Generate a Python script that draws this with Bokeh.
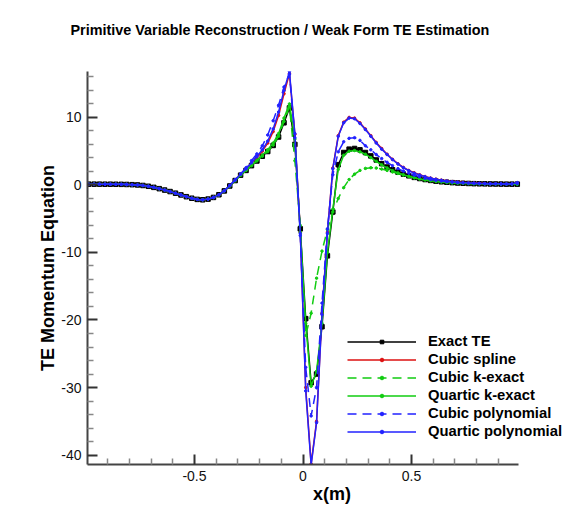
from bokeh.plotting import figure
from bokeh.models import Range1d, FixedTicker, Title, Legend, LegendItem
from bokeh.embed import file_html
from bokeh.resources import INLINE

# ---------------- data ----------------
x = [-0.9875, -0.9625, -0.9375, -0.9125, -0.8875, -0.8625, -0.8375, -0.8125, -0.7875, -0.7625,
     -0.7375, -0.7125, -0.6875, -0.6625, -0.6375, -0.6125, -0.5875, -0.5625, -0.5375, -0.5125,
     -0.4875, -0.4625, -0.4375, -0.4125, -0.3875, -0.3625, -0.3375, -0.3125, -0.2875, -0.2625,
     -0.2375, -0.2125, -0.1875, -0.1625, -0.1375, -0.1125, -0.0875, -0.0625, -0.0375, -0.0125,
     0.0125, 0.0375, 0.0625, 0.0875, 0.1125, 0.1375, 0.1625, 0.1875, 0.2125, 0.2375,
     0.2625, 0.2875, 0.3125, 0.3375, 0.3625, 0.3875, 0.4125, 0.4375, 0.4625, 0.4875,
     0.5125, 0.5375, 0.5625, 0.5875, 0.6125, 0.6375, 0.6625, 0.6875, 0.7125, 0.7375,
     0.7625, 0.7875, 0.8125, 0.8375, 0.8625, 0.8875, 0.9125, 0.9375, 0.9625, 0.9875]

exact_te = [0.12, 0.12, 0.12, 0.11, 0.11, 0.10, 0.09, 0.07, 0.04, 0.00,
            -0.08, -0.20, -0.36, -0.55, -0.76, -0.98, -1.22, -1.48, -1.74, -1.97,
            -2.14, -2.20, -2.10, -1.85, -1.45, -0.88, -0.15, 0.65, 1.45, 2.15,
            2.85, 3.55, 4.25, 4.95, 5.85, 7.10, 9.20, 11.40, 6.00, -6.50,
            -19.8, -29.3, -28.0, -21.0, -10.5, -4.0, 3.0, 4.8, 5.3, 5.4,
            5.2, 4.8, 4.3, 3.7, 3.15, 2.65, 2.25, 1.9, 1.6, 1.35,
            1.12, 0.95, 0.8, 0.67, 0.56, 0.47, 0.4, 0.34, 0.29, 0.25,
            0.22, 0.19, 0.17, 0.16, 0.15, 0.14, 0.13, 0.12, 0.12, 0.12]

cubic_spline = [0.12, 0.12, 0.12, 0.11, 0.11, 0.10, 0.09, 0.07, 0.04, 0.00,
                -0.08, -0.20, -0.36, -0.55, -0.76, -0.98, -1.22, -1.48, -1.74, -1.97,
                -2.14, -2.20, -2.10, -1.85, -1.45, -0.88, -0.12, 0.70, 1.55, 2.30,
                3.2, 4.1, 5.0, 6.2, 7.9, 10.3, 13.5, 16.5, 7.5, -7.0,
                -30.0, -41.3, -35.0, -19.0, -7.0, 2.5, 7.3, 9.3, 10.0, 9.9,
                9.2, 8.3, 7.3, 6.3, 5.4, 4.55, 3.8, 3.15, 2.6, 2.15,
                1.8, 1.5, 1.25, 1.03, 0.86, 0.72, 0.6, 0.5, 0.42, 0.36,
                0.31, 0.27, 0.24, 0.21, 0.19, 0.17, 0.16, 0.15, 0.15, 0.30]

cubic_kexact = [0.12, 0.12, 0.12, 0.11, 0.11, 0.10, 0.09, 0.07, 0.04, 0.00,
                -0.08, -0.20, -0.36, -0.55, -0.76, -0.98, -1.22, -1.48, -1.74, -1.97,
                -2.14, -2.20, -2.10, -1.85, -1.45, -0.88, -0.15, 0.65, 1.45, 2.15,
                2.85, 3.55, 4.25, 4.95, 5.9, 7.2, 9.4, 11.6, 3.6, -6.0,
                -22.3, -19.0, -13.8, -9.8, -6.6, -4.0, -2.0, -0.4, 0.8, 1.6,
                2.15, 2.45, 2.55, 2.5, 2.35, 2.15, 1.92, 1.7, 1.48, 1.28,
                1.1, 0.94, 0.8, 0.67, 0.56, 0.47, 0.4, 0.34, 0.29, 0.25,
                0.22, 0.19, 0.17, 0.16, 0.15, 0.14, 0.13, 0.13, 0.12, 0.12]

quartic_kexact = [0.12, 0.12, 0.12, 0.11, 0.11, 0.10, 0.09, 0.07, 0.04, 0.00,
                  -0.08, -0.20, -0.36, -0.55, -0.76, -0.98, -1.22, -1.48, -1.74, -1.97,
                  -2.14, -2.20, -2.10, -1.85, -1.45, -0.88, -0.15, 0.65, 1.45, 2.15,
                  2.9, 3.65, 4.4, 5.2, 6.2, 7.6, 9.9, 12.0, 6.8, -7.0,
                  -20.5, -29.8, -27.6, -20.5, -10.0, -3.6, 2.3, 4.4, 5.0, 5.1,
                  4.9, 4.55, 4.05, 3.5, 2.98, 2.52, 2.12, 1.78, 1.5, 1.26,
                  1.05, 0.88, 0.74, 0.61, 0.5, 0.42, 0.35, 0.3, 0.26, 0.22,
                  0.2, 0.18, 0.16, 0.15, 0.14, 0.13, 0.12, 0.12, 0.12, 0.12]

cubic_poly = [0.12, 0.12, 0.12, 0.11, 0.11, 0.10, 0.09, 0.07, 0.04, 0.00,
              -0.08, -0.20, -0.36, -0.55, -0.76, -0.98, -1.22, -1.48, -1.74, -1.97,
              -2.14, -2.20, -2.10, -1.85, -1.45, -0.85, -0.08, 0.78, 1.65, 2.55,
              3.6, 4.6, 5.8, 7.4, 9.5, 11.8, 14.5, 16.4, 7.0, -7.5,
              -27.0, -34.2, -30.0, -17.5, -6.5, 1.5, 4.9, 6.4, 6.9, 7.0,
              6.6, 5.8, 5.2, 4.5, 3.9, 3.35, 2.85, 2.42, 2.05, 1.75,
              1.45, 1.2, 0.99, 0.82, 0.68, 0.57, 0.48, 0.41, 0.35, 0.3,
              0.26, 0.23, 0.2, 0.18, 0.17, 0.16, 0.15, 0.14, 0.14, 0.2]

quartic_poly = [0.12, 0.12, 0.12, 0.11, 0.11, 0.10, 0.09, 0.07, 0.04, 0.00,
                -0.08, -0.20, -0.36, -0.55, -0.76, -0.98, -1.22, -1.48, -1.74, -1.97,
                -2.14, -2.20, -2.10, -1.85, -1.45, -0.87, -0.10, 0.72, 1.58, 2.38,
                3.3, 4.2, 5.2, 6.5, 8.3, 10.8, 14.0, 16.8, 7.6, -7.2,
                -30.5, -41.5, -35.2, -19.2, -7.2, 2.4, 7.2, 9.2, 9.9, 9.8,
                9.1, 8.2, 7.2, 6.2, 5.3, 4.5, 3.75, 3.1, 2.55, 2.1,
                1.75, 1.47, 1.22, 1.01, 0.84, 0.7, 0.59, 0.49, 0.41, 0.35,
                0.3, 0.26, 0.23, 0.21, 0.19, 0.17, 0.16, 0.15, 0.16, 0.35]

labels = ["Exact TE", "Cubic spline", "Cubic k-exact", "Quartic k-exact",
          "Cubic polynomial", "Quartic polynomial"]
x_ticks = [-0.5, 0, 0.5]
x_tick_labels = ["-0.5", "0", "0.5"]
x_minor = [-0.9, -0.8, -0.7, -0.6, -0.4, -0.3, -0.2, -0.1, 0.1, 0.2, 0.3, 0.4, 0.6, 0.7, 0.8, 0.9]
y_ticks = [-40, -30, -20, -10, 0, 10]
y_tick_labels = ["-40", "-30", "-20", "-10", "0", "10"]
y_minor = [-38, -36, -34, -32, -28, -26, -24, -22, -18, -16, -14, -12, -8, -6, -4, -2,
           2, 4, 6, 8, 12, 14, 16]

FONT = "Liberation Sans"

# axis extents (data) and frame geometry
X_LO, X_HI = -0.993, 0.993
Y_LO, Y_HI = -41.4, 16.8
LEFT, BOTTOM, TOP = 87, 54, 71     # px borders
AX_W = 431                         # px length of the drawn x axis
W, H = 576, 518

xs = (X_HI - X_LO) / AX_W      # data per px
frame_w = W - LEFT

p = figure(width=W, height=H, output_backend="svg", toolbar_location=None,
           x_range=Range1d(X_LO, X_LO + frame_w * xs),
           y_range=Range1d(Y_LO, Y_HI),
           min_border_left=LEFT, min_border_right=0, min_border_top=TOP,
           min_border_bottom=BOTTOM)
p.background_fill_color = "white"
p.border_fill_color = "white"
p.outline_line_color = None
p.xgrid.visible = False
p.ygrid.visible = False

p.xaxis.ticker = FixedTicker(ticks=x_ticks, minor_ticks=x_minor)
p.yaxis.ticker = FixedTicker(ticks=y_ticks, minor_ticks=y_minor)
p.xaxis.major_label_overrides = dict(zip(x_ticks, x_tick_labels))
p.yaxis.major_label_overrides = dict(zip(y_ticks, y_tick_labels))
p.xaxis.bounds = (X_LO, X_HI)

for ax in (p.xaxis[0], p.yaxis[0]):
    ax.axis_line_color = "#444444"
    ax.axis_line_width = 2
    ax.major_tick_in = 10
    ax.major_tick_out = 0
    ax.minor_tick_in = 6
    ax.minor_tick_out = 0
    ax.major_tick_line_color = "#333333"
    ax.major_tick_line_width = 2
    ax.minor_tick_line_color = "#888888"
    ax.minor_tick_line_width = 1.5
    ax.major_label_text_font = FONT
    ax.major_label_text_font_size = "14px"
    ax.major_label_text_color = "#111111"
    ax.major_label_standoff = 6
    ax.axis_label_text_font = FONT
    ax.axis_label_text_font_size = "18px"
    ax.axis_label_text_font_style = "bold"
    ax.axis_label_text_color = "black"

p.xaxis.axis_label = "x(m)"
p.yaxis.axis_label = "TE Momentum Equation"
p.xaxis.axis_label_standoff = 0
p.yaxis.axis_label_standoff = 0

series = [
    (exact_te, "black", "solid", "square", 4.5),
    (cubic_spline, "#dd1111", "solid", "circle", 2.5),
    (cubic_kexact, "#11cc11", "9 6", "circle", 2.5),
    (quartic_kexact, "#11cc11", "solid", "circle", 2.5),
    (cubic_poly, "#2222ff", "9 6", "circle", 2.5),
    (quartic_poly, "#2222ff", "solid", "circle", 2.5),
]

items = []
for (yv, color, dash, marker, msize), lab in zip(series, labels):
    r1 = p.line(x, yv, line_color=color, line_width=1.5, line_dash=dash)
    r2 = p.scatter(x, yv, marker=marker, size=msize, fill_color=color, line_color=color)
    items.append(LegendItem(label=lab, renderers=[r1, r2]))

legend = Legend(items=items, location=(260, 24))
legend.background_fill_alpha = 0
legend.border_line_color = None
legend.padding = 0
legend.margin = 0
legend.spacing = 0
legend.glyph_width = 69
legend.glyph_height = 9
legend.label_height = 18
legend.label_standoff = 12
legend.label_text_font = FONT
legend.label_text_font_size = "14.8px"
legend.label_text_font_style = "bold"
legend.label_text_color = "black"
p.add_layout(legend, "center")

# empty spacer panel between the frame and the title
spacer = Title(text=" ", standoff=0, text_font=FONT, text_font_size="27px")
p.add_layout(spacer, "above")

title = Title(text="Primitive Variable Reconstruction / Weak Form TE Estimation",
              align="left", offset=-17, standoff=0, vertical_align="top",
              text_font=FONT, text_font_size="14.4px", text_font_style="bold",
              text_color="black")
p.add_layout(title, "above")

open("out.html", "w").write(file_html(p, INLINE))
